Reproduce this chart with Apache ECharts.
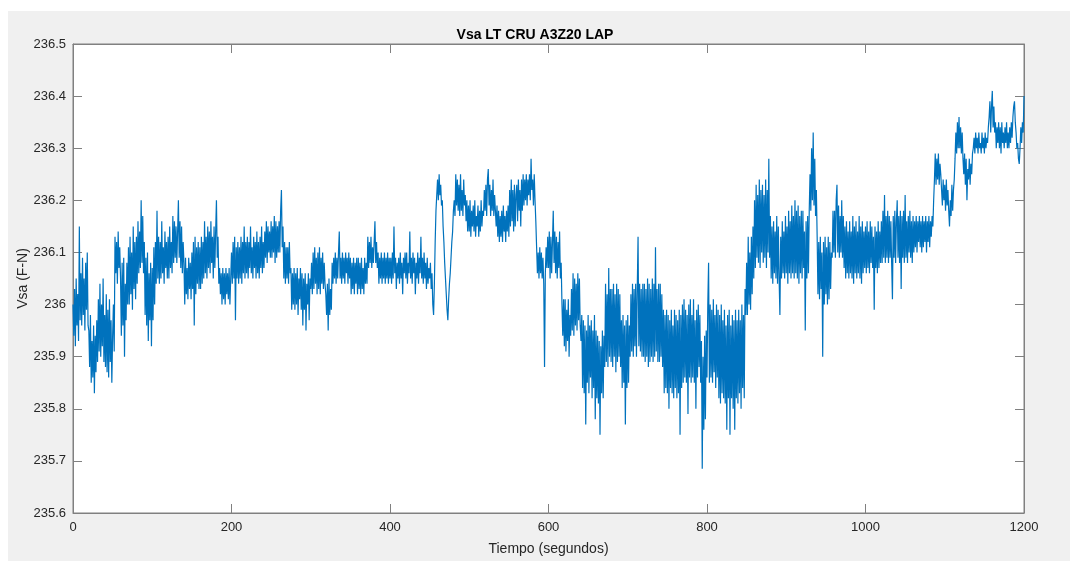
<!DOCTYPE html>
<html>
<head>
<meta charset="utf-8">
<title>Vsa LT CRU A3Z20 LAP</title>
<script src="https://cdn.jsdelivr.net/npm/echarts@6/dist/echarts.min.js"></script>
<style>
  html, body { margin: 0; padding: 0; background: #fff; }
  #main { width: 1070px; height: 561px; }
</style>
</head>
<body>
<div id="main"></div>
<script>
// Vsa (F-N), una muestra por segundo (0 .. 1200 s)
var paso = 1;
var vsa = [
  236.00, 235.94, 236.03, 235.92, 236.05, 235.96, 236.02, 235.93, 236.15, 235.97,
  236.06, 235.96, 236.09, 235.98, 236.05, 235.95, 236.08, 235.99, 236.10, 235.96,
  235.95, 235.88, 235.98, 235.85, 235.93, 235.86, 235.96, 235.83, 235.94, 235.87,
  235.97, 235.89, 236.01, 235.91, 236.04, 235.90, 236.00, 235.92, 236.05, 235.89,
  235.98, 235.88, 236.02, 235.87, 235.99, 235.86, 236.01, 235.89, 235.97, 235.85,
  235.94, 236.00, 235.91, 236.13, 236.06, 236.12, 236.04, 236.14, 236.07, 236.11,
  236.05, 235.94, 236.08, 235.96, 236.09, 235.90, 236.04, 235.97, 236.08, 236.00,
  236.11, 236.00, 236.13, 236.02, 236.10, 235.99, 236.15, 236.03, 236.12, 236.01,
  236.13, 236.04, 236.16, 236.06, 236.14, 236.07, 236.20, 236.08, 236.17, 236.06,
  236.12, 235.98, 236.09, 235.96, 236.10, 235.93, 236.06, 235.97, 236.08, 235.92,
  236.07, 235.97, 236.11, 236.00, 236.12, 236.04, 236.18, 236.05, 236.13, 236.04,
  236.12, 236.05, 236.16, 236.06, 236.11, 236.04, 236.14, 236.07, 236.12, 236.05,
  236.13, 236.05, 236.15, 236.07, 236.12, 236.06, 236.17, 236.08, 236.16, 236.09,
  236.15, 236.08, 236.14, 236.20, 236.09, 236.16, 236.07, 236.15, 236.06, 236.12,
  236.08, 236.00, 236.09, 236.02, 236.07, 236.01, 236.09, 236.03, 236.08, 236.01,
  236.10, 236.03, 236.12, 235.96, 236.13, 236.02, 236.11, 236.04, 236.12, 236.03,
  236.11, 236.03, 236.13, 236.04, 236.12, 236.05, 236.16, 236.06, 236.13, 236.05,
  236.15, 236.07, 236.14, 236.06, 236.16, 236.08, 236.13, 236.05, 236.15, 236.07,
  236.14, 236.20, 236.09, 236.13, 236.04, 236.07, 236.02, 236.06, 236.00, 236.07,
  236.01, 236.06, 236.00, 236.07, 236.02, 236.06, 236.01, 236.07, 236.00, 236.05,
  236.10, 236.04, 236.12, 236.05, 236.13, 235.97, 236.11, 236.05, 236.12, 236.04,
  236.11, 236.05, 236.13, 236.04, 236.12, 236.06, 236.15, 236.05, 236.12, 236.06,
  236.13, 236.05, 236.12, 236.07, 236.15, 236.06, 236.11, 236.05, 236.13, 236.07,
  236.12, 236.05, 236.14, 236.06, 236.12, 236.05, 236.13, 236.07, 236.15, 236.06,
  236.12, 236.07, 236.14, 236.09, 236.16, 236.08, 236.15, 236.10, 236.14, 236.09,
  236.16, 236.09, 236.15, 236.10, 236.17, 236.08, 236.16, 236.09, 236.15, 236.10,
  236.16, 236.10, 236.18, 236.22, 236.11, 236.15, 236.05, 236.12, 236.04, 236.11,
  236.05, 236.11, 236.04, 236.12, 236.06, 236.07, 235.99, 236.06, 236.00, 236.07,
  235.99, 236.06, 236.00, 236.07, 235.98, 236.05, 236.01, 236.07, 235.99, 236.06,
  235.96, 236.05, 235.99, 236.06, 235.95, 236.04, 236.00, 236.06, 235.97, 236.05,
  236.03, 236.08, 236.02, 236.10, 236.03, 236.11, 236.04, 236.09, 236.02, 236.10,
  236.03, 236.11, 236.02, 236.09, 236.04, 236.10, 236.03, 236.08, 236.04, 236.02,
  235.98, 236.04, 235.95, 236.05, 235.98, 236.03, 235.99, 236.08, 236.04, 236.09,
  236.05, 236.10, 236.04, 236.09, 236.05, 236.10, 236.14, 236.05, 236.09, 236.04,
  236.10, 236.05, 236.09, 236.04, 236.10, 236.06, 236.09, 236.04, 236.10, 236.05,
  236.09, 236.02, 236.08, 236.03, 236.09, 236.02, 236.08, 236.04, 236.09, 236.02,
  236.09, 236.03, 236.08, 236.02, 236.09, 236.03, 236.07, 236.02, 236.09, 236.04,
  236.08, 236.04, 236.13, 236.07, 236.12, 236.08, 236.13, 236.07, 236.11, 236.08,
  236.12, 236.16, 236.08, 236.12, 236.07, 236.10, 236.04, 236.09, 236.05, 236.10,
  236.04, 236.09, 236.05, 236.10, 236.04, 236.09, 236.05, 236.10, 236.04, 236.09,
  236.05, 236.09, 236.04, 236.10, 236.05, 236.15, 236.06, 236.09, 236.03, 236.08,
  236.05, 236.09, 236.04, 236.10, 236.05, 236.08, 236.02, 236.09, 236.06, 236.10,
  236.05, 236.10, 236.04, 236.08, 236.06, 236.14, 236.05, 236.09, 236.04, 236.10,
  236.06, 236.09, 236.02, 236.08, 236.05, 236.10, 236.04, 236.09, 236.06, 236.13,
  236.05, 236.09, 236.04, 236.10, 236.05, 236.08, 236.03, 236.09, 236.04, 236.07,
  236.05, 236.08, 236.03, 236.06, 236.00, 235.98, 236.04, 236.12, 236.18, 236.21,
  236.24, 236.20, 236.25, 236.21, 236.23, 236.19, 236.20, 236.15, 236.12, 236.08,
  236.05, 236.02, 235.99, 235.97, 236.01, 236.04, 236.06, 236.09, 236.12, 236.14,
  236.18, 236.20, 236.17, 236.25, 236.19, 236.24, 236.18, 236.23, 236.17, 236.25,
  236.18, 236.22, 236.17, 236.24, 236.19, 236.21, 236.16, 236.20, 236.14, 236.19,
  236.14, 236.20, 236.13, 236.18, 236.15, 236.19, 236.14, 236.20, 236.13, 236.17,
  236.15, 236.19, 236.13, 236.18, 236.14, 236.20, 236.15, 236.18, 236.17, 236.22,
  236.18, 236.23, 236.17, 236.24, 236.26, 236.19, 236.23, 236.17, 236.22, 236.18,
  236.24, 236.17, 236.21, 236.18, 236.15, 236.19, 236.13, 236.18, 236.12, 236.17,
  236.13, 236.18, 236.12, 236.19, 236.14, 236.17, 236.12, 236.18, 236.14, 236.19,
  236.13, 236.22, 236.15, 236.24, 236.16, 236.22, 236.14, 236.23, 236.15, 236.21,
  236.23, 236.16, 236.24, 236.18, 236.22, 236.15, 236.24, 236.18, 236.25, 236.19,
  236.24, 236.20, 236.25, 236.19, 236.24, 236.21, 236.25, 236.20, 236.28, 236.22,
  236.24, 236.19, 236.25, 236.20, 236.16, 236.11, 236.06, 236.10, 236.05, 236.11,
  236.06, 236.10, 236.05, 236.09, 236.04, 235.88, 236.06, 236.11, 236.07, 236.13,
  236.07, 236.14, 236.05, 236.13, 236.06, 236.12, 236.18, 236.08, 236.14, 236.06,
  236.13, 236.05, 236.12, 236.07, 236.14, 236.05, 236.08, 236.00, 235.94, 236.01,
  235.92, 236.01, 235.91, 235.99, 235.93, 236.01, 235.90, 235.98, 235.94, 236.03,
  235.95, 236.06, 235.94, 236.05, 235.96, 236.04, 235.95, 236.06, 235.97, 236.05,
  235.96, 235.93, 235.98, 235.84, 235.97, 235.83, 235.96, 235.77, 235.95, 235.85,
  235.98, 235.83, 235.96, 235.86, 235.97, 235.82, 235.95, 235.84, 235.98, 235.78,
  235.95, 235.82, 235.94, 235.81, 235.93, 235.75, 235.92, 235.83, 235.95, 235.82,
  235.94, 235.88, 236.04, 235.89, 236.02, 235.88, 236.07, 235.90, 236.03, 235.89,
  236.03, 235.88, 236.04, 235.90, 236.02, 235.87, 236.04, 235.89, 236.03, 235.90,
  236.02, 235.88, 235.97, 235.84, 235.98, 235.85, 235.96, 235.77, 235.97, 235.84,
  235.98, 235.85, 235.96, 235.90, 236.02, 235.91, 236.04, 235.90, 236.03, 235.92,
  236.04, 235.90, 236.03, 236.13, 235.92, 236.04, 235.91, 236.03, 235.90, 236.04,
  235.90, 236.04, 235.89, 236.03, 235.90, 236.05, 235.88, 236.04, 235.89, 236.03,
  235.90, 236.05, 235.89, 236.04, 235.90, 236.11, 235.91, 236.03, 235.89, 236.04,
  235.89, 236.04, 235.90, 236.02, 235.88, 235.99, 235.83, 235.98, 235.84, 235.99,
  235.83, 235.98, 235.80, 235.97, 235.84, 235.99, 235.83, 235.96, 235.82, 235.99,
  235.84, 235.98, 235.82, 235.97, 235.83, 235.99, 235.75, 235.98, 235.84, 236.00,
  235.85, 236.01, 235.86, 235.99, 235.85, 235.98, 235.79, 236.00, 235.86, 236.01,
  235.85, 235.98, 235.86, 236.01, 235.85, 235.97, 235.80, 235.99, 235.86, 236.00,
  235.88, 235.98, 235.85, 235.93, 235.685, 235.90, 235.76, 235.94, 235.78, 235.95,
  235.86, 236.00, 236.08, 235.85, 236.00, 235.86, 235.99, 235.85, 236.01, 235.87,
  235.98, 235.84, 236.00, 235.86, 235.99, 235.82, 235.98, 235.81, 236.00, 235.83,
  235.97, 235.82, 235.99, 235.81, 235.96, 235.76, 235.98, 235.82, 235.99, 235.75,
  235.96, 235.82, 235.98, 235.80, 235.97, 235.76, 235.99, 235.82, 235.97, 235.81,
  235.99, 235.83, 235.97, 235.80, 236.00, 235.84, 235.98, 235.82, 236.03, 235.98,
  236.08, 235.98, 236.13, 236.00, 236.10, 235.99, 236.13, 236.02, 236.15, 236.05,
  236.20, 236.07, 236.23, 236.09, 236.21, 236.08, 236.24, 236.07, 236.22, 236.10,
  236.23, 236.08, 236.21, 236.09, 236.24, 236.07, 236.22, 236.10, 236.28, 236.09,
  236.17, 236.05, 236.15, 236.04, 236.16, 236.06, 236.14, 236.05, 236.17, 236.04,
  236.15, 236.05, 235.98, 236.13, 236.05, 236.16, 236.06, 236.14, 236.05, 236.17,
  236.06, 236.15, 236.04, 236.18, 236.06, 236.16, 236.05, 236.19, 236.06, 236.17,
  236.05, 236.20, 236.06, 236.18, 236.05, 236.19, 236.04, 236.17, 236.06, 236.18,
  236.05, 236.18, 236.07, 236.14, 235.95, 236.16, 236.05, 236.17, 236.06, 236.18,
  236.25, 236.18, 236.30, 236.20, 236.33, 236.19, 236.28, 236.17, 236.22, 236.13,
  236.02, 236.12, 236.01, 236.13, 236.03, 236.10, 235.90, 236.12, 236.00, 236.13,
  236.02, 236.11, 236.00, 236.13, 236.01, 236.12, 236.03, 236.10, 236.09, 236.18,
  236.10, 236.18, 236.09, 236.20, 236.23, 236.10, 236.19, 236.09, 236.17, 236.10,
  236.20, 236.09, 236.17, 236.07, 236.15, 236.05, 236.16, 236.06, 236.14, 236.05,
  236.16, 236.06, 236.14, 236.05, 236.17, 236.04, 236.15, 236.06, 236.16, 236.05,
  236.14, 236.06, 236.17, 236.05, 236.15, 236.04, 236.16, 236.06, 236.14, 236.07,
  236.15, 236.06, 236.16, 236.07, 236.14, 236.06, 236.16, 236.08, 236.15, 236.07,
  236.13, 235.99, 236.15, 236.07, 236.14, 236.06, 236.16, 236.07, 236.14, 236.08,
  236.16, 236.08, 236.18, 236.09, 236.21, 236.08, 236.17, 236.09, 236.18, 236.08,
  236.17, 236.09, 236.16, 236.08, 236.01, 236.17, 236.09, 236.18, 236.08, 236.16,
  236.20, 236.09, 236.17, 236.08, 236.18, 236.03, 236.17, 236.09, 236.18, 236.08,
  236.21, 236.09, 236.16, 236.08, 236.17, 236.10, 236.18, 236.09, 236.16, 236.08,
  236.17, 236.10, 236.16, 236.11, 236.17, 236.10, 236.16, 236.12, 236.17, 236.11,
  236.16, 236.10, 236.17, 236.11, 236.16, 236.12, 236.17, 236.10, 236.16, 236.12,
  236.17, 236.11, 236.16, 236.13, 236.17, 236.15, 236.20, 236.24, 236.29, 236.23,
  236.28, 236.24, 236.29, 236.23, 236.27, 236.25, 236.22, 236.19, 236.24, 236.20,
  236.23, 236.18, 236.24, 236.19, 236.22, 236.18, 236.15, 236.20, 236.17, 236.23,
  236.18, 236.22, 236.24, 236.28, 236.33, 236.29, 236.35, 236.30, 236.36, 236.30,
  236.34, 236.29, 236.33, 236.28, 236.25, 236.29, 236.23, 236.28, 236.20, 236.26,
  236.24, 236.28, 236.23, 236.27, 236.25, 236.29, 236.30, 236.32, 236.29, 236.33,
  236.30, 236.32, 236.29, 236.33, 236.30, 236.31, 236.29, 236.33, 236.30, 236.32,
  236.29, 236.33, 236.30, 236.32, 236.31, 236.34, 236.36, 236.39, 236.33, 236.38,
  236.41, 236.34, 236.38, 236.33, 236.35, 236.30, 236.34, 236.31, 236.35, 236.30,
  236.34, 236.29, 236.35, 236.31, 236.33, 236.30, 236.34, 236.31, 236.35, 236.30,
  236.33, 236.30, 236.34, 236.31, 236.35, 236.32, 236.36, 236.38, 236.39, 236.35,
  236.33, 236.30, 236.31, 236.28, 236.27, 236.30, 236.34, 236.31, 236.35, 236.33,
  236.40
];
var xTicks = [0, 200, 400, 600, 800, 1000, 1200];
var yTicks = [235.6, 235.7, 235.8, 235.9, 236, 236.1, 236.2, 236.3, 236.4, 236.5];

var puntos = vsa.map(function (v, i) { return [i * paso, v]; });

var myChart = echarts.init(document.getElementById('main'), null, { renderer: 'canvas' });

var ejeColor = '#808080';
var textoColor = '#262626';
var fuente = '"Liberation Sans", Arial, Helvetica, sans-serif';

var fmtY = function (v) { return String(parseFloat(v.toFixed(1))); };
var fmtX = function (v) { return String(v); };

// ejes secundarios (arriba / derecha) solo para las marcas interiores, como en MATLAB
var ejeX = function (pos, conTexto) {
    return {
        type: 'value', position: pos, min: xTicks[0], max: xTicks[xTicks.length - 1], interval: 200,
        axisLine: { show: true, onZero: false, lineStyle: { color: ejeColor } },
        axisTick: { show: true, inside: true, length: 9, lineStyle: { color: ejeColor } },
        axisLabel: { show: conTexto, fontSize: 13, color: textoColor, margin: 8, formatter: fmtX },
        splitLine: { show: false }
    };
};
var ejeY = function (pos, conTexto) {
    return {
        type: 'value', position: pos, min: yTicks[0], max: yTicks[yTicks.length - 1], interval: 0.1,
        axisLine: { show: true, onZero: false, lineStyle: { color: ejeColor } },
        axisTick: { show: true, inside: true, length: 9, lineStyle: { color: ejeColor } },
        axisLabel: { show: conTexto, fontSize: 13, color: textoColor, margin: 7, formatter: fmtY },
        splitLine: { show: false }
    };
};

var xAbajo = ejeX('bottom', true);
xAbajo.name = 'Tiempo (segundos)';
xAbajo.nameLocation = 'middle';
xAbajo.nameGap = 29;
xAbajo.nameMoveOverlap = false;
xAbajo.nameTextStyle = { fontSize: 14, color: textoColor, verticalAlign: 'top' };

var yIzq = ejeY('left', true);
yIzq.name = 'Vsa (F-N)';
yIzq.nameLocation = 'middle';
yIzq.nameGap = 43;
yIzq.nameMoveOverlap = false;
yIzq.nameTextStyle = { fontSize: 14, color: textoColor };

var option = {
    animation: false,
    backgroundColor: '#fff',
    textStyle: { fontFamily: fuente },
    graphic: [{
        type: 'rect', z: -10, silent: true,
        shape: { x: 8, y: 11, width: 1062, height: 550 },
        style: { fill: '#f0f0f0' }
    }],
    title: {
        text: 'Vsa LT CRU A3Z20 LAP',
        left: 'center', top: 23,
        textStyle: { fontSize: 14, fontWeight: 'bold', color: '#000', fontFamily: fuente }
    },
    grid: {
        left: 73, right: 46, top: 44, bottom: 42,
        show: true, backgroundColor: '#fff', borderColor: ejeColor, borderWidth: 1
    },
    xAxis: [xAbajo, ejeX('top', false)],
    yAxis: [yIzq, ejeY('right', false)],
    series: [{
        name: 'Vsa',
        type: 'line',
        data: puntos,
        showSymbol: false,
        symbol: 'none',
        lineStyle: { color: '#0072bd', width: 1.2 },
        emphasis: { disabled: true }
    }]
};

myChart.setOption(option);
</script>
</body>
</html>
